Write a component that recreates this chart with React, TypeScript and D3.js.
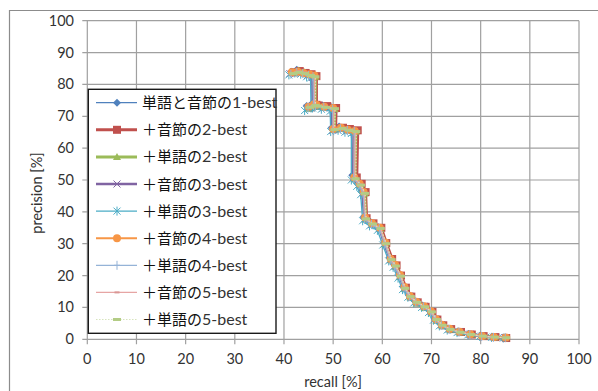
import React from "react";
import * as d3 from "d3";

// Precision–recall curves, recall [%] vs precision [%], one array per system
const s1: [number, number][] = [[41.5,84.0],[42.6,84.6],[43.8,84.0],[45.0,83.4],[45.7,82.8],[45.7,74.0],[44.6,73.2],[46.2,73.8],[47.8,73.4],[49.6,72.8],[49.7,66.4],[51.2,66.8],[52.6,66.2],[53.8,65.8],[53.9,51.5],[55.0,49.4],[55.8,46.6],[56.2,38.4],[57.6,36.8],[59.2,35.2],[60.4,30.6],[61.5,25.6],[62.4,23.6],[63.4,20.4],[64.2,16.6],[65.4,13.8],[66.6,12.0],[68.2,10.6],[69.6,9.0],[70.6,6.6],[71.8,4.8],[73.4,3.4],[75.4,2.5],[77.6,1.7],[80.0,1.1],[82.4,0.8],[84.8,0.5]];
const s2: [number, number][] = [[42.0,83.8],[43.2,84.2],[44.4,83.6],[45.6,83.2],[46.6,82.6],[46.6,73.6],[45.4,72.8],[47.0,73.4],[48.8,73.2],[50.6,72.6],[50.5,66.2],[52.0,66.4],[53.4,66.0],[55.0,65.6],[54.8,50.8],[55.8,48.8],[56.6,46.2],[56.8,38.0],[58.2,36.4],[59.8,35.0],[60.8,30.2],[62.0,25.2],[62.9,23.2],[63.8,20.0],[64.8,16.2],[65.9,13.4],[67.2,11.6],[68.8,10.2],[70.2,8.6],[71.2,6.2],[72.4,4.4],[74.0,3.2],[76.0,2.3],[78.2,1.5],[80.6,1.0],[83.0,0.7],[85.2,0.4]];
const s3: [number, number][] = [[41.8,83.6],[43.0,84.4],[44.2,83.8],[45.4,83.0],[46.4,82.4],[46.3,73.0],[45.0,72.4],[46.8,73.0],[48.4,72.8],[50.3,72.2],[50.2,65.8],[51.8,66.0],[53.2,65.6],[54.6,65.2],[54.4,50.2],[55.5,48.4],[56.4,45.8],[56.6,37.6],[58.0,36.2],[59.6,34.6],[60.6,29.8],[61.8,24.8],[62.7,22.8],[63.6,19.6],[64.6,15.8],[65.7,13.2],[67.0,11.2],[68.6,9.8],[70.0,8.2],[71.0,5.8],[72.2,4.2],[73.8,3.0],[75.8,2.1],[78.0,1.4],[80.4,0.9],[82.8,0.6],[85.0,0.4]];
const s4: [number, number][] = [[41.2,83.4],[42.4,84.0],[43.6,83.6],[44.8,82.8],[45.8,82.2],[45.9,73.2],[44.8,72.6],[46.4,73.2],[48.0,72.6],[49.9,72.0],[49.9,65.6],[51.4,66.0],[52.8,65.4],[54.2,65.0],[54.1,50.6],[55.2,48.6],[56.0,46.0],[56.4,37.8],[57.8,36.0],[59.4,34.8],[60.4,30.0],[61.6,25.0],[62.5,23.0],[63.5,19.8],[64.4,16.0],[65.5,13.6],[66.8,11.8],[68.4,10.4],[69.8,8.8],[70.8,6.4],[72.0,4.6],[73.6,3.2],[75.6,2.4],[77.8,1.6],[80.2,1.0],[82.6,0.7],[84.9,0.5]];
const s5: [number, number][] = [[41.0,83.0],[42.2,83.6],[43.4,83.2],[44.6,82.4],[45.4,82.0],[45.5,72.6],[44.2,71.8],[45.8,72.6],[47.6,72.2],[49.4,71.6],[49.5,65.2],[51.0,65.6],[52.4,65.0],[53.7,64.6],[53.7,50.0],[54.8,48.0],[55.6,45.4],[56.0,37.2],[57.4,35.6],[59.0,34.2],[60.1,29.6],[61.3,24.6],[62.2,22.6],[63.2,19.2],[64.1,15.6],[65.2,13.2],[66.4,11.4],[68.0,10.0],[69.4,8.4],[70.4,6.0],[71.6,4.2],[73.2,2.9],[75.2,2.1],[77.4,1.4],[79.8,0.9],[82.2,0.6],[84.6,0.4]];
const s6: [number, number][] = [[41.6,83.8],[42.8,84.0],[44.0,83.6],[45.2,83.2],[46.2,82.8],[46.1,73.8],[45.0,73.0],[46.6,73.6],[48.2,73.0],[50.0,72.6],[50.0,66.0],[51.6,66.4],[53.0,65.8],[54.4,65.4],[54.3,50.8],[55.4,48.8],[56.2,46.2],[56.5,38.2],[57.9,36.4],[59.5,35.0],[60.6,30.4],[61.7,25.2],[62.6,23.4],[63.6,20.2],[64.5,16.4],[65.6,13.6],[66.9,11.8],[68.5,10.4],[69.9,8.8],[70.9,6.4],[72.1,4.6],[73.7,3.3],[75.7,2.4],[77.9,1.6],[80.3,1.0],[82.7,0.7],[85.1,0.6]];
const s7: [number, number][] = [[41.4,83.2],[42.6,83.8],[43.8,83.4],[45.0,82.8],[45.9,82.4],[46.0,73.4],[44.9,72.6],[46.4,73.2],[48.1,72.8],[49.9,72.2],[50.0,65.6],[51.5,66.0],[52.9,65.6],[54.3,65.2],[54.2,50.4],[55.3,48.4],[56.1,45.8],[56.4,37.6],[57.8,36.0],[59.4,34.6],[60.5,30.0],[61.6,24.8],[62.5,22.8],[63.5,19.8],[64.4,16.0],[65.5,13.4],[66.8,11.6],[68.4,10.2],[69.8,8.6],[70.8,6.2],[72.0,4.4],[73.6,3.1],[75.6,2.2],[77.8,1.5],[80.2,0.9],[82.6,0.6],[85.0,0.5]];
const s8: [number, number][] = [[41.7,83.6],[42.9,84.2],[44.1,83.8],[45.3,83.0],[46.3,82.6],[46.2,73.6],[45.1,72.8],[46.7,73.4],[48.4,73.0],[50.2,72.4],[50.1,66.0],[51.7,66.2],[53.1,65.8],[54.5,65.4],[54.4,50.6],[55.5,48.6],[56.3,46.0],[56.6,38.0],[58.0,36.2],[59.6,34.8],[60.7,30.2],[61.8,25.0],[62.7,23.0],[63.7,20.0],[64.6,16.2],[65.7,13.4],[67.0,11.6],[68.6,10.2],[70.0,8.6],[71.0,6.2],[72.2,4.4],[73.8,3.1],[75.8,2.3],[78.0,1.5],[80.4,1.0],[82.8,0.7],[85.1,0.5]];
const s9: [number, number][] = [[41.9,83.4],[43.1,83.8],[44.3,83.4],[45.5,82.8],[46.4,82.4],[46.4,73.4],[45.3,72.8],[46.9,73.2],[48.6,72.8],[50.4,72.4],[50.3,65.8],[51.9,66.2],[53.3,65.6],[54.7,65.2],[54.6,50.4],[55.7,48.4],[56.5,45.8],[56.7,37.8],[58.1,36.2],[59.7,34.8],[60.8,30.0],[61.9,25.0],[62.8,23.0],[63.8,19.8],[64.7,16.0],[65.8,13.4],[67.1,11.6],[68.7,10.2],[70.1,8.6],[71.1,6.2],[72.3,4.4],[73.9,3.1],[75.9,2.2],[78.1,1.5],[80.5,1.0],[82.9,0.7],[85.2,0.5]];

const seriesNames = [
  ["単語と音節の", "1-best"],
  ["＋音節の", "2-best"],
  ["＋単語の", "2-best"],
  ["＋音節の", "3-best"],
  ["＋単語の", "3-best"],
  ["＋音節の", "4-best"],
  ["＋単語の", "4-best"],
  ["＋音節の", "5-best"],
  ["＋単語の", "5-best"],
];
const seriesData = [s1, s2, s3, s4, s5, s6, s7, s8, s9];

const xTicks = [0, 10, 20, 30, 40, 50, 60, 70, 80, 90, 100];
const yTicks = [0, 10, 20, 30, 40, 50, 60, 70, 80, 90, 100];

type MarkerKind = "diamond" | "square" | "triangle" | "x" | "star" | "circle" | "plus" | "dash" | "bar";
interface Style { color: string; width: number; dash?: string; marker: MarkerKind; mcolor: string; }
const styles: Style[] = [
  { color: "#4F81BD", width: 1.3, marker: "diamond", mcolor: "#4F81BD" },
  { color: "#C0504D", width: 3, marker: "square", mcolor: "#C0504D" },
  { color: "#9BBB59", width: 3, marker: "triangle", mcolor: "#9BBB59" },
  { color: "#8064A2", width: 2.5, marker: "x", mcolor: "#8064A2" },
  { color: "#4BACC6", width: 1.3, marker: "star", mcolor: "#4BACC6" },
  { color: "#F79646", width: 2, marker: "circle", mcolor: "#F79646" },
  { color: "#95B3D7", width: 1.3, marker: "plus", mcolor: "#95B3D7" },
  { color: "#E6A5A4", width: 1.3, marker: "dash", mcolor: "#D99694" },
  { color: "#D7E4BD", width: 1.2, dash: "1.5,1.5", marker: "bar", mcolor: "#B3CC85" },
];

function Marker({ kind, x, y, c }: { kind: MarkerKind; x: number; y: number; c: string }) {
  switch (kind) {
    case "diamond":
      return <path d={`M${x},${y - 4}L${x + 4},${y}L${x},${y + 4}L${x - 4},${y}Z`} fill={c} />;
    case "square":
      return <rect x={x - 4} y={y - 4} width={8} height={8} fill={c} />;
    case "triangle":
      return <path d={`M${x},${y - 4}L${x + 4},${y + 3}L${x - 4},${y + 3}Z`} fill={c} />;
    case "x":
      return <path d={`M${x - 3.5},${y - 3.5}L${x + 3.5},${y + 3.5}M${x - 3.5},${y + 3.5}L${x + 3.5},${y - 3.5}`} stroke={c} strokeWidth={1} fill="none" />;
    case "star":
      return <path d={`M${x - 3.5},${y - 3.5}L${x + 3.5},${y + 3.5}M${x - 3.5},${y + 3.5}L${x + 3.5},${y - 3.5}M${x},${y - 4.5}L${x},${y + 4.5}`} stroke={c} strokeWidth={1} fill="none" />;
    case "circle":
      return <circle cx={x} cy={y} r={4} fill={c} />;
    case "plus":
      return <path d={`M${x},${y - 4.5}L${x},${y + 4.5}M${x - 3},${y}L${x + 3},${y}`} stroke={c} strokeWidth={1} fill="none" />;
    case "dash":
      return <rect x={x - 2.5} y={y - 1} width={5} height={2} fill={c} />;
    case "bar":
      return <rect x={x - 4} y={y - 1.5} width={8} height={3} fill={c} />;
  }
}

export default function App() {
  const W = 598, H = 391;
  const left = 87.3, right = 579, top = 20.7, bottom = 339.3;
  const x = d3.scaleLinear().domain([0, 100]).range([left, right]);
  const y = d3.scaleLinear().domain([0, 100]).range([bottom, top]);
  const line = d3.line<[number, number]>().x((d) => x(d[0])).y((d) => y(d[1]));

  const grid = "#A0A0A0";
  const textColor = "#333";
  const latin = "Lato, 'Open Sans', sans-serif";
  const cjk = "'Noto Sans CJK JP', sans-serif";

  const lgX = 88.3, lgY = 89.3, lgW = 187.7, lgH = 244;
  const rowY0 = 102.7, rowStep = 27.1;

  return (
    <svg width={W} height={H} style={{ position: "absolute", left: 0, top: 0, background: "#fff" }}>
      <rect x={0} y={0} width={W} height={H} fill="#fff" />
      {/* chart frame */}
      <path d={`M9.5,${H}V10.5H${W}`} stroke="#8C8C8C" strokeWidth={1.2} fill="none" />

      {/* gridlines */}
      {xTicks.map((t) => (
        <line key={"gx" + t} x1={x(t)} x2={x(t)} y1={top} y2={bottom + 5} stroke={grid} strokeWidth={1.2} />
      ))}
      {yTicks.map((t) => (
        <line key={"gy" + t} x1={left - 5} x2={right} y1={y(t)} y2={y(t)} stroke={grid} strokeWidth={1.2} />
      ))}

      {/* tick labels */}
      {yTicks.map((t) => (
        <text key={"ly" + t} x={74} y={y(t) + 5} textAnchor="end" fontFamily={latin} fontSize={14.5} fill={textColor}>{t}</text>
      ))}
      {xTicks.map((t) => (
        <text key={"lx" + t} x={x(t)} y={364} textAnchor="middle" fontFamily={latin} fontSize={14.5} fill={textColor}>{t}</text>
      ))}

      {/* axis titles */}
      <text x={x(50)} y={387} textAnchor="middle" fontFamily={latin} fontSize={14.5} fill={textColor}>recall [%]</text>
      <text transform={`translate(42,${193}) rotate(-90)`} textAnchor="middle" fontFamily={latin} fontSize={14.5} fill={textColor}>precision [%]</text>

      {/* series */}
      {seriesData.map((data, i) => {
        const st = styles[i];
        return (
          <g key={"s" + i}>
            <path d={line(data) || ""} fill="none" stroke={st.color} strokeWidth={st.width} strokeDasharray={st.dash} strokeLinejoin="round" />
            {data.map((d, j) => (
              <Marker key={j} kind={st.marker} x={x(d[0])} y={y(d[1])} c={st.mcolor} />
            ))}
          </g>
        );
      })}

      {/* legend */}
      <rect x={lgX} y={lgY} width={lgW} height={lgH} fill="#fff" stroke="#1A1A1A" strokeWidth={1.4} />
      {seriesNames.map((nm, i) => {
        const st = styles[i];
        const ry = rowY0 + i * rowStep;
        return (
          <g key={"lg" + i}>
            <line x1={96} x2={137} y1={ry} y2={ry} stroke={st.color} strokeWidth={st.width} strokeDasharray={st.dash} />
            <Marker kind={st.marker} x={117} y={ry} c={st.mcolor} />
            <text x={142} y={ry + 5.5} fontSize={15} fill="#111">
              <tspan fontFamily={cjk}>{nm[0]}</tspan>
              <tspan fontFamily={latin} fontSize={16} fill={textColor}>{nm[1]}</tspan>
            </text>
          </g>
        );
      })}
    </svg>
  );
}
